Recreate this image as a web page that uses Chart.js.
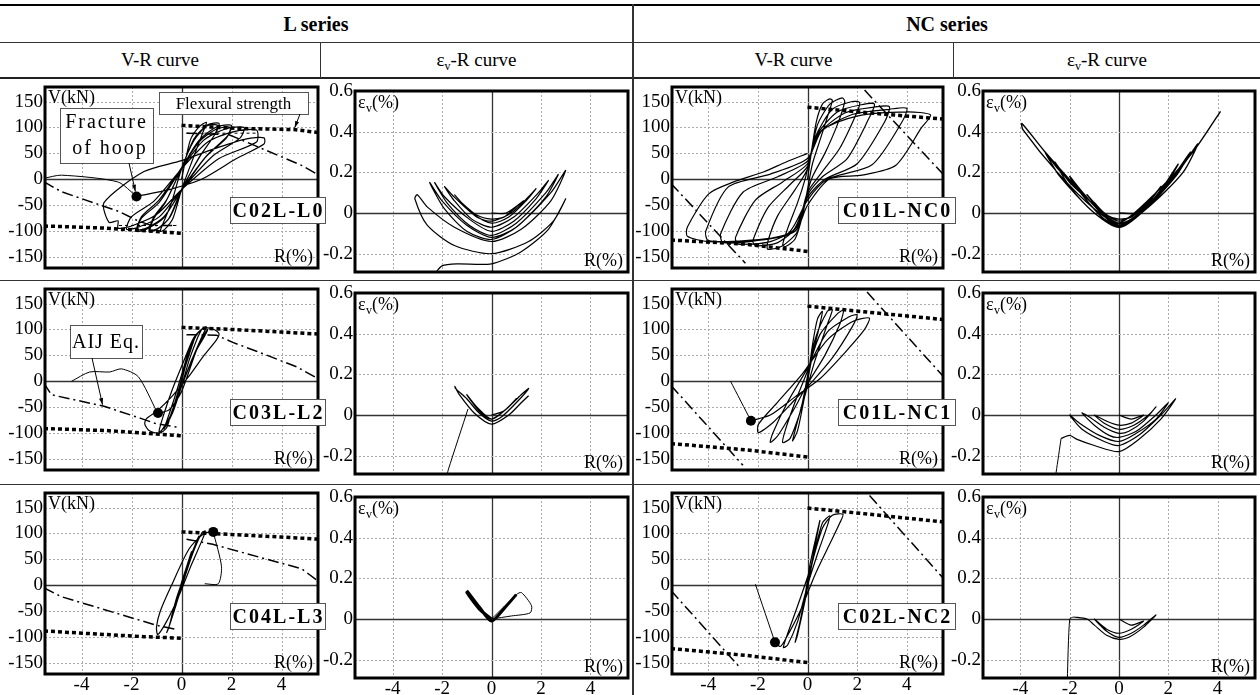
<!DOCTYPE html>
<html>
<head>
<meta charset="utf-8">
<script src="https://cdn.jsdelivr.net/npm/chart.js@4.4.1/dist/chart.umd.min.js"></script>
<style>
body { margin: 0; background: #fff; }
#page { position: relative; width: 1260px; height: 695px; overflow: hidden; font-family: "Liberation Serif", "Times New Roman", serif; color: #000; }
.ln { position: absolute; background: #333; }
.hd { position: absolute; text-align: center; font-size: 19px; line-height: 22px; }
.sub { font-size: 12px; position: relative; top: 4px; }
canvas { position: absolute; }
</style>
</head>
<body>
<div id="page">
  <div class="ln" style="left:0;top:4px;width:1260px;height:2px;background:#000"></div>
  <div class="ln" style="left:0;top:42px;width:1260px;height:1px"></div>
  <div class="ln" style="left:0;top:77px;width:1260px;height:2px;background:#222"></div>
  <div class="ln" style="left:0;top:280px;width:1260px;height:1px"></div>
  <div class="ln" style="left:0;top:484px;width:1260px;height:1px"></div>
  <div class="ln" style="left:632px;top:4px;width:2px;height:691px"></div>
  <div class="ln" style="left:320px;top:42px;width:1px;height:36px"></div>
  <div class="ln" style="left:953px;top:42px;width:1px;height:36px"></div>
  <div class="hd" style="left:0;width:632px;top:13px;font-weight:bold;font-size:20px">L series</div>
  <div class="hd" style="left:634px;width:626px;top:13px;font-weight:bold;font-size:20px">NC series</div>
  <div class="hd" style="left:0;width:320px;top:49px">V-R curve</div>
  <div class="hd" style="left:321px;width:311px;top:49px">ε<span class="sub">v</span>-R curve</div>
  <div class="hd" style="left:634px;width:319px;top:49px">V-R curve</div>
  <div class="hd" style="left:954px;width:306px;top:49px">ε<span class="sub">v</span>-R curve</div>
</div>
<script>
// ticks
const xTicks = [-4, -2, 0, 2, 4];
const vTicks = [150, 100, 50, 0, -50, -100, -150];
const evTicks = [0.6, 0.4, 0.2, 0, -0.2];
const specimens = ['C02L-L0', 'C03L-L2', 'C04L-L3', 'C01L-NC0', 'C01L-NC1', 'C02L-NC2'];

// ---- C02L-L0 ----  [R(%), V(kN)]
const L0_VR = [[0,0],[0.35,75],[0.7,101],[1.0,110],[0.85,90],[0.5,45],[0,-20],[-0.34,-75],[-0.68,-97],[-0.85,-100],
  [-0.65,-75],[-0.4,-45],[0,20],[0.5,75],[1.05,105],[1.5,108],[1.35,88],[0.75,45],[0,-20],[-0.5,-75],[-1.0,-97],[-1.3,-100],
  [-1.1,-72],[-0.6,-40],[0,22],[0.5,78],[1.0,103],[1.45,104],[1.3,84],[0.7,42],[0,-22],[-0.45,-72],[-0.95,-95],[-1.25,-98],
  [-1.1,-75],[-0.65,-45],[0,20],[0.7,75],[1.4,101],[2.0,104],[1.85,84],[1.0,45],[0,-20],[-0.72,-75],[-1.44,-97],[-1.8,-100],
  [-1.6,-72],[-0.9,-40],[0,22],[0.7,72],[1.4,97],[1.95,100],[1.8,80],[0.95,42],[0,-22],[-0.7,-72],[-1.4,-94],[-1.75,-97],
  [-1.6,-75],[-0.9,-45],[0,20],[0.88,75],[1.75,97],[2.5,100],[2.35,80],[1.25,45],[0,-20],[-0.88,-72],[-1.76,-93],[-2.2,-96],
  [-2.0,-72],[-1.1,-42],[0,20],[1.05,72],[2.1,92],[3.0,95],[3.0,72],[1.5,40],[0,-20],[-1.0,-68],[-2.0,-90],[-2.54,-94],[-2.54,-80],[-2.9,-83],[-3.1,-45],
  [-1.5,15],[0,36],[1.5,62],[2.6,78],[3.3,80],[3.3,68],[2.2,40],[0.8,0],[-0.5,-20],[-1.8,-33]];
const L0_POST = [[-1.8,-33],[-2.55,-5],[-4.8,8],[-5.5,2]];
const L0_DOT = [-1.8, -33];
const L0_FLEX_POS = [[0,104],[2.3,98],[4.5,96],[5.5,90]];
const L0_FLEX_NEG = [[-5.5,-90],[-3.1,-94],[-1.8,-98],[0,-104]];
const L0_AIJ_POS = [[0.2,89],[1.9,86],[2.25,79],[4.8,27],[5.5,8]];
const L0_AIJ_NEG = [[-5.5,-5],[-4.8,-24],[-2.5,-62],[-1.7,-81],[-1.2,-89],[-0.2,-89]];
const L0_PLAT_POS = [[0.2,89],[3.0,89]];
const L0_PLAT_NEG = [[-2.5,-89],[-0.2,-89]];
// [R(%), ev(%)]
const L0_EV = [[0,0],[0.6,0.0],[1.3,0.06],[1.0,0.03],[0.5,-0.02],[0,-0.03],[-0.6,-0.01],[-1.2,0.05],[-1.5,0.09],
  [-1.2,0.05],[-0.6,-0.02],[0,-0.04],[0.8,0.0],[1.5,0.08],[1.8,0.12],
  [1.4,0.06],[0.7,-0.02],[0,-0.05],[-0.8,0.0],[-1.6,0.09],[-1.9,0.13],
  [-1.5,0.06],[-0.8,-0.03],[0,-0.07],[0.9,-0.02],[1.9,0.1],[2.3,0.16],
  [1.8,0.07],[0.9,-0.04],[0,-0.09],[-0.9,-0.03],[-1.9,0.08],[-2.3,0.15],
  [-1.8,0.05],[-0.9,-0.06],[0,-0.11],[1.0,-0.05],[2.2,0.1],[2.7,0.19],
  [2.2,0.08],[1.0,-0.07],[0,-0.12],[-1.0,-0.06],[-2.0,0.06],[-2.5,0.15],
  [-1.9,0.02],[-1.0,-0.09],[0,-0.13],[1.0,-0.07],[2.4,0.1],[3.0,0.21],
  [2.4,0.06],[1.2,-0.08],[0,-0.14],[-1.5,-0.07],[-2.6,0.03],[-3.0,0.09],[-3.1,0.07],[-2.6,-0.06],[-1.5,-0.16],[0,-0.2],[1.5,-0.14],[2.5,-0.04],[3.0,0.07],
  [2.3,-0.08],[1.2,-0.19],[0,-0.25],[-1.4,-0.25],[-2.0,-0.26],[-2.3,-0.3]];

// ---- C03L-L2 ----
const L2_VR = [[0,0],[0.25,50],[0.5,80],[0.4,65],[0.1,20],[-0.2,-30],[-0.45,-70],[-0.35,-55],[-0.05,-10],
  [0.3,55],[0.6,90],[0.8,100],[0.65,85],[0.3,40],[0,-10],[-0.35,-60],[-0.7,-92],[-0.6,-78],[-0.3,-35],[0.05,20],
  [0.4,75],[0.8,100],[1.0,105],[0.85,90],[0.4,40],[0,-10],[-0.4,-62],[-0.8,-95],[-0.9,-97],[-0.75,-70],[-0.4,-20],[0.1,40],
  [0.5,85],[0.9,103],[1.3,100],[1.5,92],[1.4,80],[0.9,50],[0.3,10],[-0.4,-30],[-1.0,-58],[-1.4,-72],[-1.47,-82],[-1.3,-95],[-0.9,-100],[-0.6,-90],
  [-0.4,-60],[0,-10],[0.5,50],[0.9,90],[1.05,100],[0.9,85],[0.6,60],[0,-20],[-0.5,-55],[-0.94,-61]];
const L2_POST = [[-0.94,-61],[-1.0,-57],[-1.73,9],[-2.4,24],[-2.87,18],[-3.67,18],[-4.4,0]];
const L2_DOT = [-0.94, -61];
const L2_FLEX_POS = [[0,104],[2,100],[4,95],[5.5,91]];
const L2_FLEX_NEG = [[-5.5,-91],[-3,-95],[-1.5,-100],[0,-105]];
const L2_AIJ_POS = [[0.2,90],[1.4,89],[2.05,75],[3.0,58],[4.6,28],[5.5,4]];
const L2_AIJ_NEG = [[-5.5,-4],[-5.2,-26],[-3.1,-48],[-1.6,-72],[-1.0,-82],[-0.2,-88]];
const L2_EV = [[0,0],[0.5,0.02],[1.0,0.08],[0.6,0.03],[0,-0.02],[-0.5,0.02],[-1.0,0.1],[-0.6,0.04],[0,-0.02],[0.6,0.03],[1.2,0.1],[1.5,0.13],
  [1.0,0.06],[0.4,-0.01],[0,-0.03],[-0.5,0.01],[-1.0,0.08],[-1.45,0.13],[-1.48,0.14],[-1.3,0.1],[-0.7,0.01],[0,-0.045],[0.7,0.0],[1.2,0.06],[1.5,0.095]];
const L2_EV_POST = [[-0.95,0.03],[-1.75,-0.27],[-1.8,-0.3]];

// ---- C04L-L3 ----
const L3_VR = [[0,0],[0.2,35],[0.4,65],[0.3,50],[0,5],[-0.2,-30],[-0.4,-60],[-0.3,-45],[0,0],[0.4,60],[0.7,95],
  [0.6,85],[0.2,30],[-0.2,-25],[-0.5,-80],[-0.6,-92],[-0.5,-80],[-0.1,-20],[0.4,55],[0.8,100],[0.95,105],
  [0.85,90],[0.4,40],[-0.1,-20],[-0.6,-70],[-0.95,-95],[-1.0,-80],[-0.85,-50],[-0.4,0],[0.3,70],[0.9,100],[1.27,103]];
const L3_POST = [[1.27,103],[1.6,36],[1.47,3],[0.93,3]];
const L3_DOT = [1.27, 103];
const L3_FLEX_POS = [[0,103],[2,98],[4,93],[5.5,89]];
const L3_FLEX_NEG = [[-5.5,-88],[-3,-95],[-1.5,-99],[0,-102]];
const L3_AIJ_POS = [[0.2,89],[1.25,79],[4.8,32],[5.5,7]];
const L3_AIJ_NEG = [[-5.5,-5],[-4.8,-22],[-1.0,-77],[-0.2,-85]];
const L3_EV_CYC = [[0,0],[-0.5,0.05],[-1.0,0.13],[-0.5,0.06],[0,-0.01],[0.5,0.05],[1.0,0.12],[0.5,0.05],[0,-0.01],[-0.5,0.06],[-1.0,0.14]];
const L3_EV_OUT = [[0,0],[0.5,0.06],[1.0,0.12],[1.21,0.13],[1.62,0.065],[1.56,0.03],[0.8,0.015],[0,0]];

// ---- C01L-NC0 ----
const NC0_VR = [[0,0],[0.15,50],[0.35,110],[0.6,145],[0.9,155],[1.0,152],[0.8,120],[0.5,75],[0.2,30],[0,-20],[-0.2,-70],[-0.5,-115],[-0.9,-130],[-1.0,-126],[-0.8,-95],[-0.4,-45],[-0.1,0],[0.1,40],[0.4,105],
  [0.9,145],[1.4,157],[1.5,150],[1.2,105],[0.7,50],[0.2,5],[-0.1,-40],[-0.4,-100],[-1.0,-128],[-1.6,-135],[-1.6,-120],[-1.2,-70],[-0.5,-20],[0,20],[0.3,80],
  [1.0,135],[1.8,150],[2.1,148],[2.0,130],[1.3,60],[0.6,15],[0,-25],[-0.4,-90],[-1.2,-122],[-2.1,-128],[-2.2,-118],[-1.6,-55],[-0.7,-10],[0,25],[0.3,80],
  [1.2,130],[2.3,145],[2.7,145],[2.5,120],[1.6,40],[0.6,5],[0,-30],[-0.5,-95],[-1.5,-120],[-2.8,-125],[-2.9,-112],[-2.1,-40],[-1.0,-5],[0,30],[0.4,85],
  [1.5,128],[2.8,140],[3.3,140],[3.1,110],[2.0,30],[0.7,0],[0,-35],[-0.6,-100],[-2.0,-118],[-3.4,-122],[-3.5,-105],[-2.6,-25],[-1.2,5],[0,35],[0.5,90],
  [1.8,125],[3.3,135],[4.0,137],[3.8,110],[2.6,28],[0.8,0],[0,-40],[-0.8,-105],[-2.5,-118],[-4.0,-118],[-4.1,-100],[-3.2,-15],[-1.5,10],[0,40],[0.6,95],
  [2.0,122],[4.0,130],[4.96,124],[4.6,100],[3.56,27],[2.2,8],[0.9,1],[0,-50],[-0.5,-100],[-2.0,-118],[-4.0,-120],[-4.84,-110],[-4.84,-92],[-3.98,-28],[-2.97,-5],[-1.78,14],[-0.84,34],[0,50]];
const NC0_FLEX_POS = [[0,139],[2.5,128],[5.5,116]];
const NC0_FLEX_NEG = [[-5.5,-117],[-2.5,-125],[0,-139]];
const NC0_AIJ_POS = [[2.3,172],[5.5,8]];
const NC0_AIJ_NEG = [[-5.5,-8],[-2.5,-162]];
const NC0_EV = [[0,0],[0.8,0.0],[1.0,0.03],[0.5,-0.02],[0,-0.03],[-0.5,-0.01],[-1.0,0.05],[-1.3,0.09],[-0.8,0.02],[0,-0.04],[0.8,0.01],[1.5,0.1],[1.7,0.13],
  [1.2,0.05],[0.5,-0.03],[0,-0.05],[-0.8,0.01],[-1.6,0.12],[-2.0,0.18],[-1.5,0.09],[-0.6,-0.03],[0,-0.06],[0.9,0.0],[1.8,0.13],[2.4,0.24],
  [1.8,0.12],[0.8,-0.01],[0,-0.06],[-1.0,0.04],[-2.0,0.15],[-2.6,0.25],[-2.0,0.13],[-1.0,0.0],[0,-0.07],[1.0,0.02],[2.2,0.18],[2.9,0.3],
  [2.3,0.18],[1.0,0.01],[0,-0.07],[-1.2,0.06],[-2.5,0.22],[-3.0,0.3],[-2.4,0.18],[-1.0,0.0],[0,-0.065],[1.2,0.04],[2.5,0.22],[3.2,0.34],
  [2.6,0.2],[1.2,0.03],[0,-0.06],[-1.5,0.1],[-3.0,0.3],[-3.94,0.44],[-3.9,0.41],[-2.5,0.2],[-1.0,0.02],[0,-0.05],[1.5,0.1],[3.0,0.3],[4.12,0.5]];

// ---- C01L-NC1 ----
const NC1_VR = [[0,0],[0.2,70],[0.4,120],[0.6,135],[0.5,110],[0.2,50],[0,0],[-0.2,-50],[-0.4,-95],[-0.6,-115],[-0.5,-95],[-0.2,-40],[0,10],[0.3,80],
  [0.8,135],[1.0,138],[0.8,110],[0.3,40],[0,-10],[-0.3,-60],[-0.7,-110],[-1.0,-118],[-0.9,-95],[-0.5,-40],[0,20],[0.5,90],
  [1.2,130],[1.45,137],[1.3,110],[0.7,50],[0,-5],[-0.5,-50],[-1.2,-105],[-1.5,-118],[-1.4,-100],[-0.8,-40],[0,25],[0.8,95],
  [1.7,125],[2.0,128],[1.8,105],[1.0,45],[0.2,0],[-0.5,-35],[-1.4,-80],[-1.98,-99],[-1.98,-83],[-1.2,-40],[-0.2,15],[0.8,80],
  [1.8,115],[2.49,122],[2.3,100],[1.5,55],[0.5,5],[-0.5,-30],[-1.5,-65],[-2.28,-76]];
const NC1_POST = [[-2.28,-76],[-3.1,0]];
const NC1_DOT = [-2.28, -76];
const NC1_FLEX_POS = [[0,145],[2.5,133],[5.5,119]];
const NC1_FLEX_NEG = [[-5.5,-120],[-2.5,-132],[0,-146]];
const NC1_AIJ_POS = [[2.4,172],[5.5,8]];
const NC1_AIJ_NEG = [[-5.5,-8],[-2.6,-162]];
const NC1_EV = [[0,0],[0.5,-0.02],[1.0,0.0],[0.5,-0.04],[0,-0.05],[-0.5,-0.03],[-1.0,0.0],[-0.6,-0.04],[0,-0.07],[0.6,-0.05],[1.2,0.0],[1.5,0.04],
  [1.0,-0.03],[0.4,-0.08],[0,-0.09],[-0.6,-0.06],[-1.2,-0.01],[-1.5,0.01],[-1.0,-0.05],[-0.4,-0.1],[0,-0.11],[0.7,-0.08],[1.5,0.0],[2.0,0.06],
  [1.5,-0.02],[0.7,-0.09],[0,-0.13],[-0.8,-0.1],[-1.6,-0.04],[-2.0,0.0],[-1.5,-0.07],[-0.6,-0.13],[0,-0.15],[0.8,-0.1],[1.7,0.0],[2.3,0.08],
  [1.7,-0.02],[0.8,-0.12],[0,-0.18],[-1.0,-0.15],[-1.7,-0.12],[-2.0,-0.1],[-2.35,-0.115]];
const NC1_EV_POST = [[-2.35,-0.115],[-2.55,-0.28],[-2.58,-0.3]];

// ---- C02L-NC2 ----
const NC2_VR = [[0,0],[0.2,50],[0.4,100],[0.5,125],[0.4,105],[0.1,40],[-0.1,-20],[-0.3,-70],[-0.5,-110],[-0.4,-95],[-0.1,-30],[0.2,45],[0.6,120],[0.9,134],
  [0.8,115],[0.4,60],[0,0],[-0.4,-70],[-0.8,-115],[-0.97,-120],[-0.85,-100],[-0.4,-40],[0.1,30],[0.6,110],[1.0,135],[1.43,137],
  [1.3,120],[0.9,80],[0.3,20],[-0.3,-50],[-0.9,-105],[-1.1,-118],[-1.31,-110]];
const NC2_POST = [[-1.31,-110],[-2.1,2]];
const NC2_DOT = [-1.31, -110];
const NC2_FLEX_POS = [[0,149],[2.5,137],[5.5,122]];
const NC2_FLEX_NEG = [[-5.5,-122],[-2.5,-135],[0,-149]];
const NC2_AIJ_POS = [[2.5,173],[5.5,12]];
const NC2_AIJ_NEG = [[-5.5,-10],[-2.7,-160]];
const NC2_EV = [[0,0],[0.5,-0.03],[1.0,-0.01],[0.5,-0.05],[0,-0.07],[-0.5,-0.05],[-1.0,0.0],[-0.5,-0.06],[0,-0.09],[0.5,-0.07],[1.0,-0.03],[1.5,0.02],
  [1.0,-0.04],[0.4,-0.09],[0,-0.1],[-0.5,-0.08],[-1.0,-0.03],[-1.3,0.0],[-1.85,0.01]];
const NC2_EV_POST = [[-1.85,0.01],[-2.0,0.0],[-2.1,-0.3]];

const SERIF = '"Liberation Serif", "Times New Roman", serif';
const page = document.getElementById('page');

const pts = a => a.map(([x, y]) => ({x, y}));
const curve = (a, w = 1.1) => ({data: pts(a), showLine: true, borderColor: '#000', borderWidth: w, pointRadius: 0, tension: 0.25});
const flex = a => ({data: pts(a), showLine: true, borderColor: '#000', borderWidth: 3.5, borderDash: [4, 3], pointRadius: 0, tension: 0});
const aij = a => ({data: pts(a), showLine: true, borderColor: '#000', borderWidth: 1.5, borderDash: [11, 4, 2, 4], pointRadius: 0, tension: 0});
const thin = a => ({data: pts(a), showLine: true, borderColor: '#000', borderWidth: 1, borderDash: [3, 3], pointRadius: 0, tension: 0});
const dot = p => ({data: pts([p]), showLine: false, pointRadius: 5, pointBackgroundColor: '#000', pointBorderWidth: 0});

// grid, frame and in-plot labels
const decor = {
  id: 'decor',
  beforeDatasetsDraw(chart, args, o) {
    const {ctx, chartArea: a, scales: {x, y}} = chart;
    ctx.save();
    const line = (x1, y1, x2, y2, zero) => {
      ctx.setLineDash(zero ? [] : [2, 2]);
      ctx.strokeStyle = zero ? '#333' : '#aaa';
      ctx.lineWidth = zero ? 1.3 : 1;
      ctx.beginPath(); ctx.moveTo(x1, y1); ctx.lineTo(x2, y2); ctx.stroke();
    };
    xTicks.forEach(v => { const p = Math.round(x.getPixelForValue(v)) + 0.5; line(p, a.top, p, a.bottom, v === 0); });
    const yt = o.kind === 'vr' ? vTicks : evTicks;
    yt.forEach(v => { const p = Math.round(y.getPixelForValue(v)) + 0.5; line(a.left, p, a.right, p, v === 0); });
    ctx.restore();
  },
  afterDatasetsDraw(chart, args, o) {
    const {ctx, chartArea: a, scales: {x, y}} = chart;
    ctx.save();
    ctx.setLineDash([]);
    ctx.strokeStyle = '#000';
    ctx.lineWidth = 3;
    ctx.strokeRect(a.left, a.top, a.right - a.left, a.bottom - a.top);
    ctx.fillStyle = '#000';
    ctx.font = '18px ' + SERIF;
    ctx.textAlign = 'left';
    if (o.kind === 'vr') {
      ctx.fillText('V(kN)', a.left + 3, a.top + 16);
    } else {
      ctx.fillText('ε', a.left + 3, a.top + 17);
      ctx.font = '12px ' + SERIF;
      ctx.fillText('v', a.left + 11, a.top + 21);
      ctx.font = '18px ' + SERIF;
      ctx.fillText('(%)', a.left + 17, a.top + 17);
    }
    ctx.textAlign = 'right';
    ctx.fillText('R(%)', a.right - 5, a.bottom - 6);

    if (o.name) {
      const nc = o.name.length > 7;
      const bx = a.right - (nc ? 105 : 88), bw = nc ? 117 : 95, by = a.top + 110, bh = 26;
      ctx.fillStyle = '#fff';
      ctx.fillRect(bx, by, bw, bh);
      ctx.strokeStyle = '#555';
      ctx.lineWidth = 1;
      ctx.strokeRect(bx + 0.5, by + 0.5, bw, bh);
      ctx.fillStyle = '#000';
      ctx.font = 'bold 20px ' + SERIF;
      ctx.letterSpacing = '2px';
      ctx.textAlign = 'center';
      ctx.fillText(o.name, bx + bw / 2 + 1, by + 20);
      ctx.letterSpacing = '0px';
    }
    (o.boxes || []).forEach(b => {
      const bx = a.left + b.x, by = a.top + b.y;
      ctx.fillStyle = '#fff';
      ctx.fillRect(bx, by, b.w, b.h);
      ctx.strokeStyle = '#555';
      ctx.lineWidth = 1;
      ctx.strokeRect(bx + 0.5, by + 0.5, b.w, b.h);
      ctx.fillStyle = '#000';
      ctx.font = b.size + 'px ' + SERIF;
      ctx.letterSpacing = b.gap + 'px';
      ctx.textAlign = 'center';
      b.lines.forEach((t, i) => ctx.fillText(t, bx + b.w / 2, by + b.base + i * b.lh));
      ctx.letterSpacing = '0px';
    });
    (o.arrows || []).forEach(r => {
      const fx = a.left + r.from[0], fy = a.top + r.from[1];
      const tx = x.getPixelForValue(r.to[0]), ty = y.getPixelForValue(r.to[1]);
      const ang = Math.atan2(ty - fy, tx - fx);
      const ex = tx - Math.cos(ang) * r.gap, ey = ty - Math.sin(ang) * r.gap;
      ctx.strokeStyle = '#000';
      ctx.lineWidth = 1;
      ctx.beginPath(); ctx.moveTo(fx, fy); ctx.lineTo(ex, ey); ctx.stroke();
      ctx.beginPath();
      ctx.moveTo(ex, ey);
      ctx.lineTo(ex - 7 * Math.cos(ang - 0.3), ey - 7 * Math.sin(ang - 0.3));
      ctx.lineTo(ex - 7 * Math.cos(ang + 0.3), ey - 7 * Math.sin(ang + 0.3));
      ctx.closePath(); ctx.fill();
    });
    ctx.restore();
  }
};

const rowTop = [78, 280, 484];
const rowBottom = [280, 484, 695];
const cols = {
  vrL: {left: 0, frame: 45, right: 318, canvasRight: 336},
  evL: {left: 320, frame: 355, right: 628, canvasRight: 633},
  vrN: {left: 633, frame: 672, right: 943, canvasRight: 962},
  evN: {left: 951, frame: 983, right: 1255, canvasRight: 1260}
};

function makeChart(c, row, kind, datasets, extra) {
  const vr = kind === 'vr';
  const top = rowTop[row], bottom = rowBottom[row];
  const fTop = top + (vr ? 9 : 13), fBottom = top + (vr ? 190 : 194);
  const cv = document.createElement('canvas');
  cv.width = c.canvasRight - c.left;
  cv.height = bottom - top;
  cv.style.left = c.left + 'px';
  cv.style.top = top + 'px';
  cv.style.zIndex = vr ? 2 : 1;
  page.appendChild(cv);
  const tickFont = {family: SERIF, size: 19, lineHeight: 1};
  new Chart(cv, {
    type: 'scatter',
    data: {datasets},
    options: {
      animation: false,
      responsive: false,
      devicePixelRatio: 1,
      layout: {padding: {left: 0, top: fTop - top, right: c.canvasRight - c.right, bottom: 0}},
      plugins: {
        legend: {display: false},
        tooltip: {enabled: false},
        decor: Object.assign({kind}, extra)
      },
      scales: {
        x: {
          type: 'linear', min: vr ? -5.46 : -5.52, max: vr ? 5.46 : 5.52,
          afterBuildTicks: s => { s.ticks = xTicks.map(v => ({value: v})); },
          afterFit: s => { s.height = bottom - fBottom; s.paddingLeft = 0; s.paddingRight = 0; },
          grid: {display: false, drawTicks: false}, border: {display: false},
          ticks: {display: row === 2, color: '#000', padding: 2, maxRotation: 0, autoSkip: false, font: tickFont}
        },
        y: {
          type: 'linear', min: vr ? -171 : -0.29, max: vr ? 178 : 0.6,
          afterBuildTicks: s => { s.ticks = (vr ? vTicks : evTicks).map(v => ({value: v})); },
          afterFit: s => { s.width = c.frame - c.left; s.paddingTop = 0; s.paddingBottom = 0; },
          grid: {display: false, drawTicks: false}, border: {display: false},
          ticks: {color: '#000', padding: 2, autoSkip: false, font: tickFont, callback: v => String(v)}
        }
      }
    },
    plugins: [decor]
  });
}

// epsilon_v charts first, V-R charts on top (name boxes overhang)
makeChart(cols.evL, 0, 'ev', [curve(L0_EV, 1.2)], {});
makeChart(cols.evL, 1, 'ev', [curve(L2_EV, 1.3), curve(L2_EV_POST, 1)], {});
makeChart(cols.evL, 2, 'ev', [curve(L3_EV_CYC, 3), curve(L3_EV_OUT, 1)], {});
makeChart(cols.evN, 0, 'ev', [curve(NC0_EV, 1.4)], {});
makeChart(cols.evN, 1, 'ev', [curve(NC1_EV, 1.2), curve(NC1_EV_POST, 1)], {});
makeChart(cols.evN, 2, 'ev', [curve(NC2_EV, 1.2), curve(NC2_EV_POST, 1)], {});

makeChart(cols.vrL, 0, 'vr', [curve(L0_VR, 1.2), curve(L0_POST, 1), flex(L0_FLEX_POS), flex(L0_FLEX_NEG),
  aij(L0_AIJ_POS), aij(L0_AIJ_NEG), thin(L0_PLAT_POS), thin(L0_PLAT_NEG), dot(L0_DOT)], {
  name: specimens[0],
  boxes: [
    {x: 114, y: 5, w: 149, h: 22, lines: ['Flexural strength'], size: 17, gap: 0, base: 17, lh: 0},
    {x: 15, y: 21, w: 93, h: 55, lines: ['Fracture', ' of hoop'], size: 20, gap: 2, base: 20, lh: 26}
  ],
  arrows: [
    {from: [255, 27], to: [4.5, 96], gap: 2},
    {from: [84, 76], to: L0_DOT, gap: 5}
  ]
});
makeChart(cols.vrL, 1, 'vr', [curve(L2_VR, 1.2), curve(L2_POST, 1), flex(L2_FLEX_POS), flex(L2_FLEX_NEG),
  aij(L2_AIJ_POS), aij(L2_AIJ_NEG), dot(L2_DOT)], {
  name: specimens[1],
  boxes: [{x: 25, y: 36, w: 72, h: 33, lines: ['AIJ Eq.'], size: 20, gap: 1, base: 23, lh: 0}],
  arrows: [{from: [47, 69], to: [-3.15, -47], gap: 1}]
});
makeChart(cols.vrL, 2, 'vr', [curve(L3_VR, 1.2), curve(L3_POST, 1), flex(L3_FLEX_POS), flex(L3_FLEX_NEG),
  aij(L3_AIJ_POS), aij(L3_AIJ_NEG), dot(L3_DOT)], {name: specimens[2]});
makeChart(cols.vrN, 0, 'vr', [curve(NC0_VR, 1.2), flex(NC0_FLEX_POS), flex(NC0_FLEX_NEG),
  aij(NC0_AIJ_POS), aij(NC0_AIJ_NEG)], {name: specimens[3]});
makeChart(cols.vrN, 1, 'vr', [curve(NC1_VR, 1.2), curve(NC1_POST, 1), flex(NC1_FLEX_POS), flex(NC1_FLEX_NEG),
  aij(NC1_AIJ_POS), aij(NC1_AIJ_NEG), dot(NC1_DOT)], {name: specimens[4]});
makeChart(cols.vrN, 2, 'vr', [curve(NC2_VR, 1.2), curve(NC2_POST, 1), flex(NC2_FLEX_POS), flex(NC2_FLEX_NEG),
  aij(NC2_AIJ_POS), aij(NC2_AIJ_NEG), dot(NC2_DOT)], {name: specimens[5]});
</script>
</body>
</html>
